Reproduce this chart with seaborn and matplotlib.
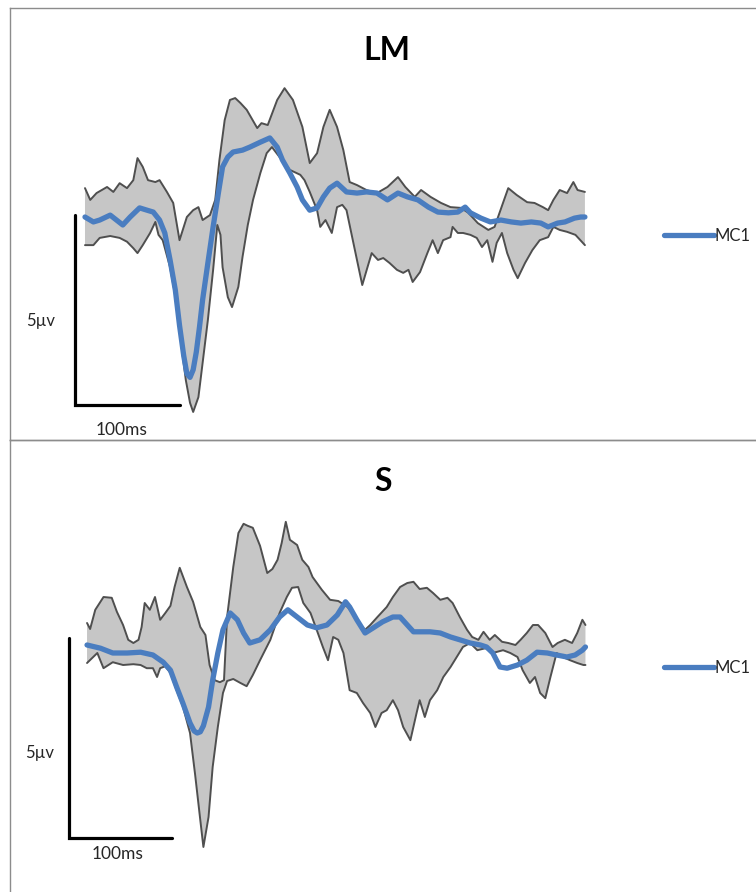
import numpy as np
import matplotlib
matplotlib.use('Agg')
import matplotlib.pyplot as plt
import seaborn as sns

sns.set_style('white')
plt.rcParams['font.family'] = ['Lato', 'DejaVu Sans']

# ---- LM panel (ms, uV) ----
lm_t_mc1 = [0, 8, 14, 24, 30, 36, 43, 52, 59, 65, 71, 76, 81, 86, 90, 94, 97, 100, 103, 106, 109,
            112, 117, 122, 127, 131, 136, 141, 150, 157, 167, 176, 183, 188, 195, 202, 207, 214,
            221, 227, 233, 240, 249, 259, 268, 278, 288, 298, 307, 317, 327, 336, 346, 355, 362,
            367, 377, 386, 396, 406, 415, 425, 434, 441, 450, 457, 466, 472, 476]
lm_v_mc1 = [0, -0.13, -0.08, 0.05, -0.08, -0.21, 0, 0.24, 0.18, 0.13, -0.08, -0.42, -1.13, -1.92,
            -2.85, -3.65, -4.12, -4.22, -4.02, -3.55, -2.9, -2.18, -1.21, -0.26, 0.63, 1.32, 1.58,
            1.71, 1.76, 1.84, 1.97, 2.08, 1.84, 1.50, 1.16, 0.79, 0.45, 0.18, 0.24, 0.53, 0.76,
            0.89, 0.66, 0.63, 0.66, 0.63, 0.45, 0.63, 0.53, 0.45, 0.26, 0.13, 0.11, 0.13, 0.26,
            0.11, -0.03, -0.13, -0.08, -0.13, -0.16, -0.13, -0.16, -0.26, -0.16, -0.13, -0.03, 0,
            0]

lm_t_hi = [0, 5, 11, 21, 27, 33, 40, 46, 50, 55, 60, 67, 71, 78, 84, 90, 97, 103, 108, 112, 119,
           124, 128, 133, 138, 143, 148, 154, 164, 168, 174, 183, 190, 198, 207, 214, 221, 227,
           233, 240, 246, 252, 259, 268, 278, 288, 298, 305, 314, 320, 329, 339, 348, 358, 365,
           374, 384, 390, 398, 403, 411, 421, 428, 436, 441, 446, 452, 459, 465, 469, 476]
lm_v_hi = [0.76, 0.45, 0.63, 0.79, 0.66, 0.89, 0.76, 0.97, 1.55, 1.32, 0.97, 0.92, 0.97, 0.66,
           0.37, -0.61, 0, 0.18, 0.26, -0.08, 0.05, 0.45, 1.50, 2.55, 3.08, 3.13, 3.0, 2.82, 2.34,
           2.47, 2.42, 3.08, 3.39, 3.08, 2.37, 1.42, 1.68, 2.37, 2.82, 2.37, 1.76, 0.92, 0.84,
           0.71, 0.63, 0.79, 1.05, 0.79, 0.53, 0.71, 0.53, 0.37, 0.26, 0.24, 0.11, -0.16, -0.34,
           -0.26, 0.37, 0.76, 0.58, 0.39, 0.37, 0.26, 0.18, 0.45, 0.71, 0.63, 0.92, 0.71, 0.66]

lm_t_lo = [0, 8, 14, 24, 33, 40, 46, 50, 55, 62, 67, 70, 74, 81, 88, 92, 96, 100, 103, 108, 112,
           117, 122, 126, 129, 131, 136, 140, 146, 150, 155, 160, 167, 173, 178, 186, 195, 205,
           209, 214, 221, 224, 229, 235, 240, 245, 249, 255, 264, 269, 273, 279, 284, 290, 297,
           303, 308, 312, 319, 326, 331, 336, 341, 348, 350, 355, 360, 367, 373, 378, 383, 388,
           392, 397, 402, 408, 412, 419, 426, 433, 441, 446, 452, 459, 467, 474, 476]
lm_v_lo = [-0.74, -0.74, -0.55, -0.5, -0.55, -0.65, -0.82, -0.95, -0.74, -0.42, -0.13, -0.47,
           -0.61, -1.32, -2.37, -3.42, -4.29, -4.89, -5.13, -4.74, -3.84, -2.71, -1.39, -0.21,
           -0.47, -1.32, -2.11, -2.37, -1.84, -1.05, -0.21, 0.45, 1.16, 1.68, 1.84, 1.55, 1.24,
           1.11, 0.97, 0.66, 0.18, -0.26, -0.08, -0.42, 0.26, 0.32, 0.18, -0.61, -1.79, -1.32,
           -0.95, -1.13, -1.08, -1.21, -1.39, -1.47, -1.39, -1.71, -1.45, -0.95, -0.61, -0.95,
           -0.61, -0.53, -0.26, -0.42, -0.42, -0.47, -0.55, -0.79, -0.61, -1.18, -0.68, -0.42,
           -0.95, -1.39, -1.61, -1.21, -0.87, -0.61, -0.53, -0.26, -0.34, -0.39, -0.47, -0.68,
           -0.74]

# ---- S panel (ms, uV) ----
s_t_mc1 = [0, 13, 25, 39, 52, 64, 74, 81, 87, 93, 100, 104, 107, 110, 113, 118, 122, 127, 132,
           139, 146, 152, 158, 168, 178, 187, 195, 204, 214, 223, 233, 243, 251, 255, 262, 270,
           278, 287, 297, 304, 311, 317, 323, 333, 343, 353, 362, 372, 382, 388, 394, 401, 408,
           418, 427, 437, 447, 456, 466, 474, 481, 484]
s_v_mc1 = [0, -0.08, -0.2, -0.2, -0.18, -0.25, -0.43, -0.63, -1.05, -1.45, -1.95, -2.15, -2.2,
           -2.17, -2.02, -1.55, -0.88, -0.2, 0.38, 0.8, 0.63, 0.3, 0.05, 0.13, 0.38, 0.7, 0.88,
           0.7, 0.5, 0.43, 0.5, 0.75, 1.08, 0.95, 0.63, 0.3, 0.43, 0.58, 0.7, 0.7, 0.5, 0.33,
           0.33, 0.33, 0.3, 0.2, 0.13, 0.05, 0, -0.05, -0.2, -0.55, -0.58, -0.5, -0.38, -0.18,
           -0.2, -0.25, -0.3, -0.25, -0.13, -0.05]

s_t_hi = [0, 3, 8, 16, 24, 29, 35, 40, 45, 50, 53, 56, 61, 66, 71, 76, 81, 85, 90, 97, 103, 110,
          115, 119, 124, 129, 133, 136, 142, 147, 152, 156, 161, 168, 175, 180, 185, 189, 193,
          197, 204, 209, 215, 219, 228, 236, 244, 253, 258, 265, 270, 275, 282, 291, 297, 304,
          311, 317, 323, 330, 336, 343, 350, 355, 362, 369, 374, 380, 385, 391, 396, 403, 409,
          416, 421, 427, 433, 438, 445, 452, 457, 464, 471, 476, 481, 484]
s_v_hi = [0.55, 0.4, 0.88, 1.2, 1.18, 0.83, 0.5, 0.13, 0.05, 0.13, 0.45, 1.05, 0.88, 1.2, 0.63,
          0.8, 0.98, 1.45, 1.93, 1.45, 1.08, 0.45, 0.25, -0.5, -0.88, -0.93, -0.88, 0.7, 1.95,
          2.8, 3.03, 2.98, 2.93, 2.48, 1.8, 1.9, 2.13, 2.55, 3.08, 2.63, 2.5, 2.13, 1.95, 1.7,
          1.38, 1.13, 1.1, 0.95, 0.78, 0.5, 0.38, 0.5, 0.7, 0.95, 1.2, 1.45, 1.55, 1.58, 1.4,
          1.43, 1.3, 1.13, 1.18, 1.05, 0.7, 0.38, 0.2, 0.13, 0.33, 0.13, 0.25, 0.08, 0.05, 0,
          0.13, 0.3, 0.5, 0.5, 0.3, -0.05, 0.05, 0.13, 0.05, 0.3, 0.63, 0.5]

s_t_lo = [0, 6, 10, 16, 25, 35, 45, 52, 58, 64, 68, 71, 76, 81, 87, 93, 100, 105, 110, 113, 118,
          122, 127, 132, 136, 142, 149, 155, 161, 168, 178, 187, 194, 199, 205, 210, 217, 223,
          229, 234, 239, 244, 249, 255, 262, 268, 275, 280, 286, 291, 297, 302, 307, 314, 320,
          323, 328, 333, 340, 346, 353, 359, 365, 372, 379, 387, 394, 404, 411, 418, 423, 430,
          435, 440, 445, 450, 456, 462, 469, 476, 482, 484]
s_v_lo = [-0.45, -0.3, -0.2, -0.58, -0.43, -0.5, -0.48, -0.5, -0.58, -0.58, -0.8, -0.58, -0.53,
          -0.7, -1.13, -1.53, -2.2, -3.25, -4.38, -5.05, -4.3, -3.05, -2.05, -1.2, -0.9, -0.85,
          -0.95, -1.03, -0.75, -0.38, 0.13, 0.8, 1.2, 1.43, 1.45, 1.05, 0.8, 0.38, -0.05, -0.38,
          0.2, 0.13, -0.2, -1.13, -1.2, -1.45, -1.7, -2.05, -1.7, -1.63, -1.38, -1.63, -2.05,
          -2.38, -1.7, -1.38, -1.8, -1.38, -1.13, -0.8, -0.55, -0.3, -0.05, 0.05, -0.13, -0.08,
          -0.2, -0.13, -0.2, -0.3, -0.63, -0.95, -0.8, -1.2, -1.33, -0.8, -0.2, -0.3, -0.38,
          -0.45, -0.5, -0.5]

BLUE = '#4a7dc0'
EDGE = '#4f4f4f'
FILL = '#c6c6c6'
TXT = '#262626'


def draw_panel(ax, t_hi, v_hi, t_lo, v_lo, t_mc, v_mc, bar_origin):
    ax.fill(np.concatenate([t_hi, t_lo[::-1]]), np.concatenate([v_hi, v_lo[::-1]]),
            color=FILL, lw=0, zorder=1)
    sns.lineplot(x=t_hi, y=v_hi, ax=ax, color=EDGE, lw=1.4, sort=False, estimator=None, zorder=2)
    sns.lineplot(x=t_lo, y=v_lo, ax=ax, color=EDGE, lw=1.4, sort=False, estimator=None, zorder=2)
    sns.lineplot(x=t_mc, y=v_mc, ax=ax, color=BLUE, lw=3.8, sort=False, estimator=None,
                 label='MC1', zorder=3, solid_joinstyle='round', solid_capstyle='round')
    # scale bar: 100 ms x 5 uV
    x0, y0 = bar_origin
    ax.plot([x0, x0, x0 + 100], [y0 + 5, y0, y0], color='black', lw=2.3,
            solid_joinstyle='miter', zorder=4)
    ax.set_xticks([])
    ax.set_yticks([])
    ax.set_xlabel('')
    ax.set_ylabel('')
    ax.patch.set_alpha(0)
    for s in ax.spines.values():
        s.set_color('#8c8c8c')
        s.set_linewidth(1.0)


fig = plt.figure(figsize=(7.56, 8.92), dpi=100)
ax1 = fig.add_axes([10 / 756, 452 / 892, 746 / 756, 432 / 892])
ax2 = fig.add_axes([10 / 756, 0, 746 / 756, 452 / 892])

draw_panel(ax1, np.array(lm_t_hi), np.array(lm_v_hi), np.array(lm_t_lo), np.array(lm_v_lo),
           lm_t_mc1, lm_v_mc1, (-9.5, -4.95))
ax1.set_xlim(-71.4, 638.9)
ax1.set_ylim(-5.868, 5.5)
ax1.spines['right'].set_visible(False)

draw_panel(ax2, np.array(s_t_hi), np.array(s_v_hi), np.array(s_t_lo), np.array(s_v_lo),
           s_t_mc1, s_v_mc1, (-17.5, -4.83))
ax2.set_xlim(-74.8, 649.6)
ax2.set_ylim(-6.175, 5.125)
for side in ['right', 'bottom']:
    ax2.spines[side].set_visible(False)

for ax, ly in [(ax1, 236), (ax2, 668)]:
    ax.legend(loc='center left', bbox_to_anchor=(656 / 756, 1 - ly / 892),
              bbox_transform=fig.transFigure, frameon=False, handlelength=3.0,
              handletextpad=0.0, borderpad=0, fontsize=12, labelcolor=TXT)

fig.text(387 / 756, 1 - 60 / 892, 'LM', ha='center', va='baseline', fontsize=23,
         fontweight='bold', color='black')
fig.text(383 / 756, 1 - 491 / 892, 'S', ha='center', va='baseline', fontsize=23,
         fontweight='bold', color='black')

fig.text(41 / 756, 1 - 326 / 892, '5µv', ha='center', va='baseline', fontsize=12, color=TXT)
fig.text(122 / 756, 1 - 435 / 892, '100ms', ha='center', va='baseline', fontsize=12.5, color=TXT)
fig.text(40 / 756, 1 - 758 / 892, '5µv', ha='center', va='baseline', fontsize=12, color=TXT)
fig.text(118 / 756, 1 - 859 / 892, '100ms', ha='center', va='baseline', fontsize=12.5, color=TXT)

fig.savefig('out.png', dpi=100)
